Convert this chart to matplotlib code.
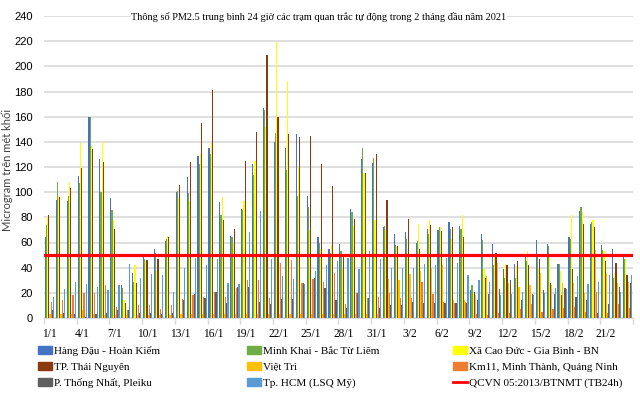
import matplotlib
matplotlib.use('Agg')
import matplotlib.pyplot as plt
import matplotlib.patches as mpatches
import matplotlib.lines as mlines
import numpy as np

# ngày 1/1 -> 23/2/2021
dates = [f'{d}/1' for d in range(1, 32)] + [f'{d}/2' for d in range(1, 24)]

hang_dau = [64, 94, 93, 113, 160, 126, 95, 26, 36, 51, 55, 61, 100, 112, 129, 135, 92, 65,
            87, 122, 167, 140, 135, 146, 97, 64, 55, 59, 87, 126, 123, 72, 67, 68, 60, 71,
            70, 76, 73, 22, 67, 59, 39, 43, 51, 62, 59, 43, 64, 85, 75, 58, 55, 51]
minh_khai = [74, 108, 97, 107, 160, 100, 86, 24, 29, 47, 52, 63, 101, 99, 122, 130, 82, 64,
             86, 114, 165, 147, 118, 97, 88, 60, 52, 53, 84, 135, 127, 73, 58, 63, 61, 67,
             72, 71, 71, 26, 62, 42, 32, 32, 45, 49, 57, 43, 63, 88, 76, 54, 32, 47]
cao_duc = [80, 97, 108, 139, 137, 141, 78, 14, 42, 45, 37, 65, 95, 93, 130, 139, 96, 60,
           93, 125, 152, 219, 188, 120, 70, 55, 58, 39, 73, 115, 78, 70, 57, 52, 75, 78,
           72, 63, 82, 20, 39, 51, 43, 41, 53, 40, 50, 37, 82, 84, 78, 53, 36, 47]
thai_nguyen = [82, 96, 103, 119, 134, 124, 71, 12, 28, 46, 47, 64, 106, 124, 155, 181, 78, 71,
               125, 148, 209, 160, 146, 144, 145, 122, 105, 51, 79, 115, 130, 94, 57, 79, 55, 74,
               69, 72, 64, 21, 32, 52, 42, 45, 42, 47, 28, 18, 39, 75, 72, 45, 44, 34]
viet_tri = [3, 3, 3, 6, 3, 2, 2, 2, 2, 2, 2, 2, 3, 3, 3, 3, 3, 3,
            3, 3, 3, 3, 3, 3, 3, 3, 3, 3, 3, 3, 3, 31, 30, 35, 37, 40,
            42, 14, 14, 18, 33, 44, 28, 25, 26, 36, 26, 28, 28, 20, 54, 36, 28, 29]
km11 = [13, 14, 18, 20, 20, 26, 9, 6, 10, 10, 7, 10, 15, 18, 17, 21, 17, 24,
        30, 30, 16, 44, 46, 28, 31, 29, 36, 11, 20, 16, 17, 20, 16, 16, 29, 19,
        13, 12, 13, 3, 2, 4, 4, 7, 11, 5, 7, 8, 9, 5, 21, 4, 11, 8]
pleiku = [6, 4, 3, 1, 3, 4, 6, 6, 4, 4, 3, 4, 14, 19, 16, 21, 12, 25,
          25, 13, 11, 15, 15, 28, 32, 24, 14, 8, 20, 16, 8, 10, 10, 13, 12, 12,
          12, 12, 12, 14, 19, 23, 30, 14, 19, 22, 19, 24, 17, 14, 4, 11, 25, 28]
hcm = [17, 23, 29, 27, 25, 22, 26, 43, 32, 35, 34, 21, 40, 48, 42, 47, 28, 27,
       68, 85, 47, 33, 31, 27, 37, 42, 45, 48, 39, 53, 47, 40, 40, 40, 43, 42,
       48, 44, 34, 30, 29, 18, 19, 21, 18, 20, 24, 23, 33, 27, 29, 34, 21, 34]

series = [
    ('Hàng Đậu - Hoàn Kiếm', hang_dau, '#4472C4'),
    ('Minh Khai - Bắc Từ Liêm', minh_khai, '#70AD47'),
    ('Xã Cao Đức - Gia Bình - BN', cao_duc, '#FFFF00'),
    ('TP. Thái Nguyên', thai_nguyen, '#8B3A0F'),
    ('Việt Trì', viet_tri, '#FFC000'),
    ('Km11, Minh Thành, Quảng Ninh', km11, '#ED7D31'),
    ('P. Thống Nhất, Pleiku', pleiku, '#5F5F5F'),
    ('Tp. HCM (LSQ Mỹ)', hcm, '#5B9BD5'),
]
limit_label = 'QCVN 05:2013/BTNMT (TB24h)'
limit_value = 50

serif = ['Liberation Serif', 'DejaVu Serif']
sans = ['Liberation Sans', 'DejaVu Sans']

fig = plt.figure(figsize=(6.4, 4.0), dpi=100)
ax = fig.add_axes([44 / 640, 82 / 400, 589 / 640, 302 / 400])

x = np.arange(len(dates))
w = 0.107
for k, (name, vals, col) in enumerate(series):
    ax.bar(x + (k - 3.5) * w, vals, width=w, color=col, linewidth=0, zorder=2)

ax.axhline(limit_value, color='#FF0000', linewidth=2.3, zorder=3)

ax.set_xlim(-0.5, len(dates) - 0.5)
ax.set_ylim(0, 240)
ax.set_yticks(np.arange(0, 241, 20))
ax.grid(axis='y', color='#D9D9D9', linewidth=1.2, zorder=0)
ax.set_axisbelow(True)

ax.set_xticks(x[::3])
ax.set_xticklabels(dates[::3], family=serif, fontsize=8.3)
ax.set_xticks(np.arange(-0.5, len(dates), 3), minor=True)
ax.tick_params(axis='x', which='major', length=0, pad=7)
ax.tick_params(axis='x', which='minor', length=4, color='#D9D9D9', width=1)
ax.tick_params(axis='y', length=0, pad=8)
for lab in ax.get_yticklabels():
    lab.set_family(sans)
    lab.set_fontsize(8)

for s in ['top', 'right', 'left']:
    ax.spines[s].set_visible(False)
ax.spines['bottom'].set_color('#D9D9D9')

fig.text(7 / 640, 1 - 170 / 400, 'Microgram trên mét khối', rotation=90,
         ha='center', va='center', family=['Lato', 'DejaVu Sans'], fontsize=8,
         color='#404040')
fig.text(319 / 640, 1 - 17 / 400,
         'Thông số PM2.5 trung bình 24 giờ các trạm quan trắc tự động trong 2 tháng đầu năm 2021',
         ha='center', va='center', family=serif, fontsize=7.4,
         bbox=dict(facecolor='white', edgecolor='none', pad=0.5))

# legend: 3 columns, read row by row
handles = [mpatches.Patch(color=c, label=n) for n, _, c in series]
handles.append(mlines.Line2D([], [], color='#FF0000', linewidth=2, label=limit_label))
col_x = [38, 247, 453]
for c in range(3):
    fig.legend(handles=handles[c::3], loc='upper left',
               bbox_to_anchor=(col_x[c] / 640, 1 - 346 / 400),
               frameon=False, prop={'family': serif, 'size': 8},
               handlelength=1.3, handleheight=0.7, handletextpad=0.15,
               labelspacing=0.55, borderpad=0, borderaxespad=0)

fig.savefig('out.png', dpi=100)
